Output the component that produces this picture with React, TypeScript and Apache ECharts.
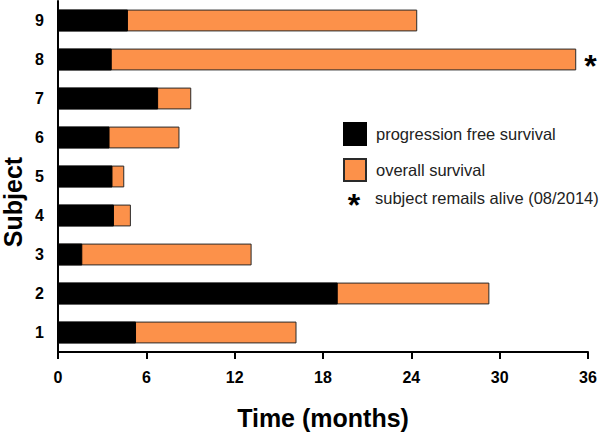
import React, { useEffect, useRef } from "react";
import * as echarts from "echarts";

const subjects = ["1", "2", "3", "4", "5", "6", "7", "8", "9"];
const pfsMonths = [5.3, 19.0, 1.65, 3.8, 3.7, 3.5, 6.8, 3.65, 4.75];
const osMonths = [16.2, 29.3, 13.15, 4.95, 4.5, 8.25, 9.05, 35.2, 24.4];
const aliveFlags = [false, false, false, false, false, false, false, true, false];
const xTicks = [0, 6, 12, 18, 24, 30, 36];

const FONT = "'Liberation Sans', Arial, Helvetica, sans-serif";
const ORANGE = "#FC914A";

export default function App() {
  const ref = useRef<HTMLDivElement>(null);
  useEffect(() => {
    if (!ref.current) return;
    const chart = echarts.init(ref.current, null, { renderer: "svg" });
    chart.setOption({
      animation: false,
      backgroundColor: "#fff",
      grid: { left: 58, right: 12, top: 1, bottom: 74, containLabel: false },
      legend: {
        orient: "vertical",
        left: 338,
        top: 117,
        itemWidth: 22,
        itemHeight: 22,
        itemGap: 12,
        icon: "rect",
        data: ["progression free survival", "overall survival"],
        textStyle: { fontFamily: FONT, fontSize: 16.5, color: "#222", padding: [0, 0, 0, 5] },
        selectedMode: false,
      },
      xAxis: {
        type: "value",
        min: xTicks[0],
        max: xTicks[xTicks.length - 1],
        interval: 6,
        name: "Time (months)",
        nameLocation: "middle",
        nameGap: 53,
        nameTextStyle: { fontFamily: FONT, fontSize: 25, fontWeight: "bold", color: "#000" },
        axisLine: { show: true, lineStyle: { color: "#000", width: 2 } },
        axisTick: { show: true, length: 7, lineStyle: { color: "#000", width: 2 } },
        axisLabel: { fontFamily: FONT, fontSize: 16, fontWeight: "bold", color: "#000", margin: 17 },
        splitLine: { show: false },
      },
      yAxis: {
        type: "category",
        data: subjects,
        axisLine: { show: true, lineStyle: { color: "#000", width: 2 } },
        axisTick: { show: false },
        axisLabel: { fontFamily: FONT, fontSize: 16, fontWeight: "bold", color: "#000", margin: 14 },
      },
      graphic: [
        {
          type: "text",
          x: 13,
          y: 202,
          rotation: Math.PI / 2,
          style: {
            text: "Subject",
            font: `bold 25px ${FONT}`,
            fill: "#000",
            align: "center",
            verticalAlign: "middle",
          },
        },
        {
          type: "text",
          x: 354,
          y: 205,
          style: {
            text: "*",
            font: `bold 32px ${FONT}`,
            fill: "#000",
            align: "center",
            verticalAlign: "middle",
          },
        },
        {
          type: "text",
          x: 375,
          y: 198,
          style: {
            text: "subject remails alive (08/2014)",
            font: `16.5px ${FONT}`,
            fill: "#222",
            align: "left",
            verticalAlign: "middle",
          },
        },
      ],
      series: [
        {
          name: "overall survival",
          type: "bar",
          data: osMonths,
          barWidth: "56%",
          itemStyle: { color: ORANGE, borderColor: "#2a2a2a", borderWidth: 1 },
          label: {
            show: true,
            position: "right",
            distance: 8,
            offset: [0, 6],
            fontFamily: FONT,
            fontSize: 32,
            fontWeight: "bold",
            color: "#000",
            formatter: (p: any) => (aliveFlags[p.dataIndex] ? "*" : ""),
          },
        },
        {
          name: "progression free survival",
          type: "bar",
          data: pfsMonths,
          barWidth: "56%",
          barGap: "-100%",
          itemStyle: { color: "#000", borderColor: "#000", borderWidth: 1 },
        },
      ],
    });
    return () => chart.dispose();
  }, []);
  return (
    <div
      ref={ref}
      style={{ position: "absolute", left: 0, top: 0, width: 600, height: 435 }}
    />
  );
}
